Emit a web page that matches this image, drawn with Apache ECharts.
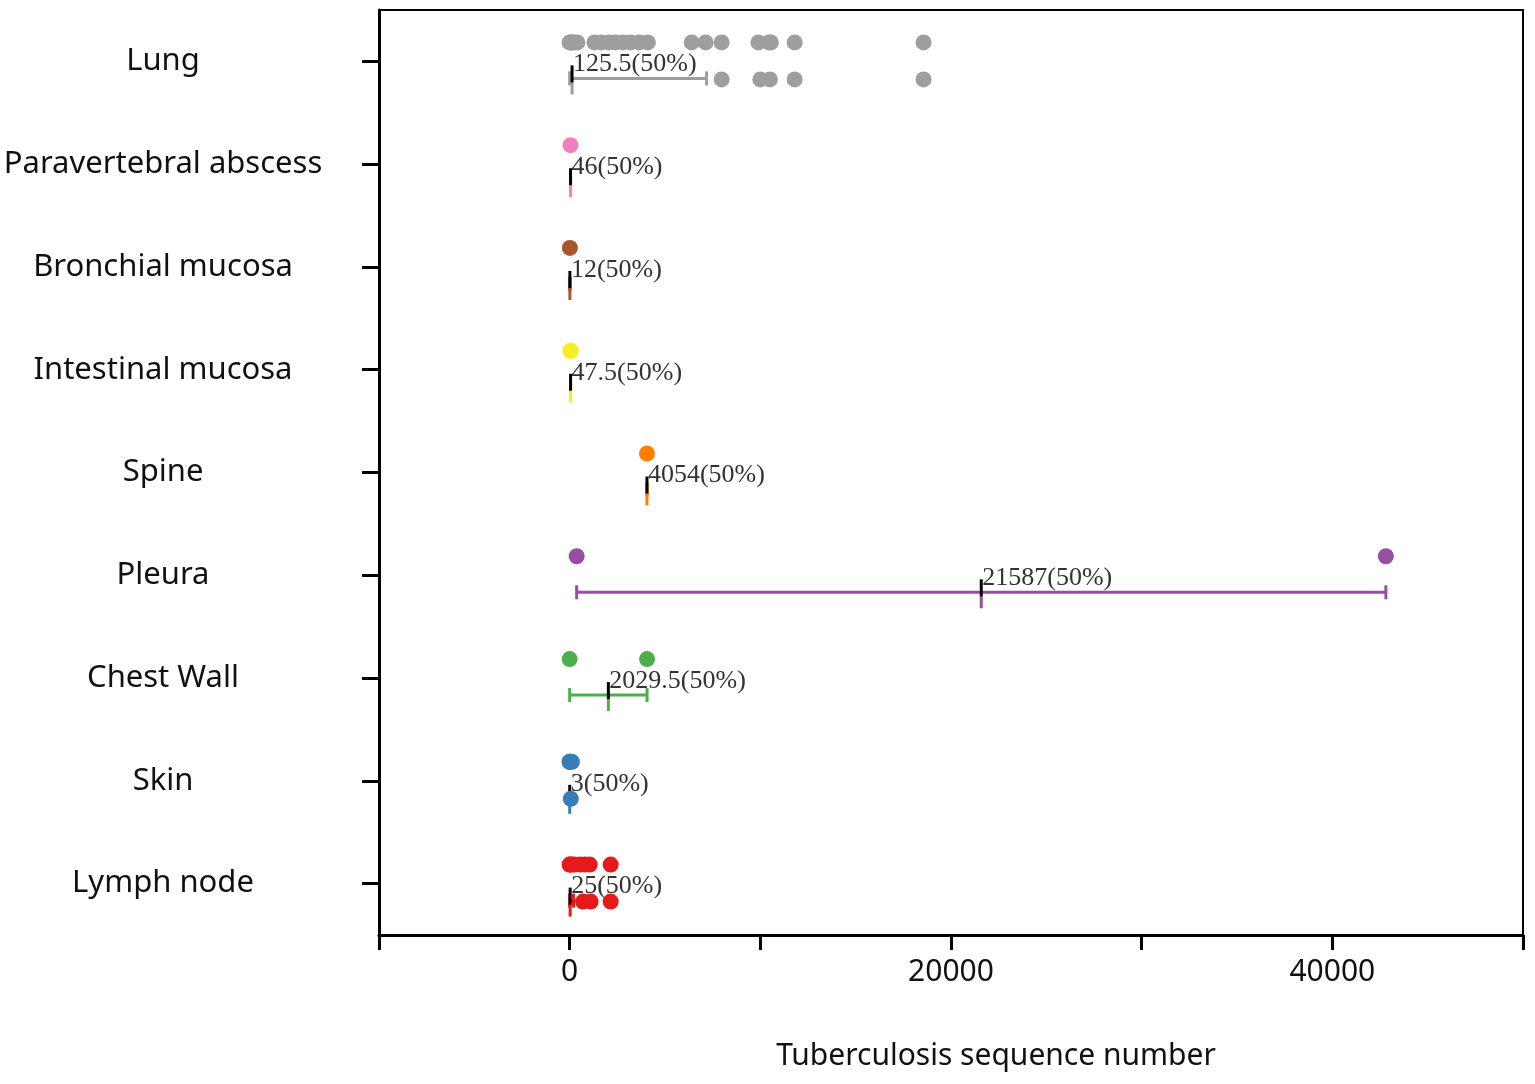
<!DOCTYPE html>
<html>
<head>
    <meta charset="UTF-8">
    <title></title>
    <style type="text/css">
        html, body { margin: 0; padding: 0; background: #fff; }
        #mychart { width: 1535px; height: 1084px; }
    </style>
</head>
<body>
<div id="mychart"></div>
<script src="https://cdn.jsdelivr.net/npm/echarts@6/dist/echarts.min.js"></script>
<script>
    var categories = ['Lung', 'Paravertebral abscess', 'Bronchial mucosa', 'Intestinal mucosa', 'Spine', 'Pleura', 'Chest Wall', 'Skin', 'Lymph node'];
    var colors = ['#9e9e9e', '#f07fbf', '#a65628', '#f5ef1f', '#ff7f00', '#984ea3', '#4daf4a', '#377eb8', '#e41a1c'];

    // every sample (upper row of dots)
    var samples = [
        [0, 40, 90, 150, 260, 400, 1300, 1650, 2050, 2400, 2800, 3200, 3650, 4100, 6400, 7130, 7970, 9900, 10450, 10550, 11800, 18560],
        [46],
        [12],
        [45, 50],
        [4054],
        [367, 42807],
        [0, 4059],
        [0, 3, 8, 120],
        [0, 20, 90, 250, 550, 800, 1050, 2150]
    ];
    // points beyond the whisker (row under the bar)
    var outliers = [
        [7970, 10000, 10500, 11800, 18560],
        [], [], [], [], [], [],
        [60],
        [700, 1100, 2150]
    ];
    var whiskerLow = [0, 46, 12, 45, 4054, 367, 0, 0, 0];
    var whiskerHigh = [7180, 46, 12, 50, 4054, 42807, 4059, 6, 200];
    var medians = [125.5, 46, 12, 47.5, 4054, 21587, 2029.5, 3, 25];

    var myChart = echarts.init(document.getElementById('mychart'));

    var topData = [], lowData = [], barData = [];
    for (var i = 0; i < categories.length; i++) {
        for (var a = 0; a < samples[i].length; a++) {
            topData.push({value: [samples[i][a], i], itemStyle: {color: colors[i]}});
        }
        for (a = 0; a < outliers[i].length; a++) {
            lowData.push({value: [outliers[i][a], i], itemStyle: {color: colors[i]}});
        }
        barData.push([i, whiskerLow[i], whiskerHigh[i], medians[i]]);
    }

    function renderBar(params, api) {
        var i = api.value(0);
        var lo = api.coord([api.value(1), i]);
        var hi = api.coord([api.value(2), i]);
        var md = api.coord([api.value(3), i]);
        var y = lo[1] + 17;
        var c = colors[i];
        var lineStyle = {stroke: c, lineWidth: 3};
        var kids = [
            {type: 'line', shape: {x1: lo[0], y1: y, x2: hi[0], y2: y}, style: lineStyle},
            {type: 'line', shape: {x1: lo[0], y1: y - 7, x2: lo[0], y2: y + 7}, style: lineStyle},
            {type: 'line', shape: {x1: hi[0], y1: y - 7, x2: hi[0], y2: y + 7}, style: lineStyle},
            {type: 'line', shape: {x1: md[0], y1: y + 3, x2: md[0], y2: y + 16}, style: lineStyle},
            {type: 'line', shape: {x1: md[0], y1: y - 13, x2: md[0], y2: y + 4}, style: {stroke: '#000', lineWidth: 3}},
            {
                type: 'text', x: md[0] + 1, y: y - 1,
                style: {
                    text: api.value(3) + '(50%)', fill: '#333',
                    font: '26px "Liberation Serif", "DejaVu Serif", serif',
                    textAlign: 'left', textVerticalAlign: 'bottom'
                }
            }
        ];
        return {type: 'group', children: kids};
    }

    var option = {
        animation: false,
        grid: {left: 379, right: 12, top: 10, bottom: 149, show: true, borderColor: '#000', borderWidth: 2},
        xAxis: {
            type: 'value', min: -10000, max: 50000, interval: 10000,
            name: 'Tuberculosis sequence number', nameLocation: 'middle', nameGap: 106,
            nameTextStyle: {fontFamily: 'Noto Sans', fontSize: 30, color: '#111', padding: [0, 0, 0, 90]},
            splitLine: {show: false},
            axisLine: {show: true, lineStyle: {color: '#000', width: 3}},
            axisTick: {show: true, length: 15, lineStyle: {color: '#000', width: 3}},
            axisLabel: {
                margin: 22, fontFamily: 'Noto Sans', fontSize: 30, color: '#111',
                formatter: function (v) { return (v === 0 || v === 20000 || v === 40000) ? String(v) : ''; }
            }
        },
        yAxis: {
            type: 'category', data: categories, inverse: true,
            axisLine: {show: true, onZero: false, lineStyle: {color: '#000', width: 3}},
            axisTick: {show: true, alignWithLabel: true, length: 17, lineStyle: {color: '#000', width: 3}},
            axisLabel: {margin: 216, align: 'center', fontFamily: 'Noto Sans', fontSize: 31, color: '#111', padding: [5, 0, 0, 0]}
        },
        series: [
            {type: 'custom', name: 'range', renderItem: renderBar, data: barData, encode: {x: [1, 2, 3], y: 0}, z: 2},
            {type: 'scatter', name: 'samples', data: topData, symbolSize: 16, symbolOffset: [0, -19], itemStyle: {opacity: 1}, z: 3},
            {type: 'scatter', name: 'outliers', data: lowData, symbolSize: 16, symbolOffset: [0, 18], itemStyle: {opacity: 1}, z: 3}
        ]
    };

    myChart.setOption(option);
</script>
</body>
</html>
